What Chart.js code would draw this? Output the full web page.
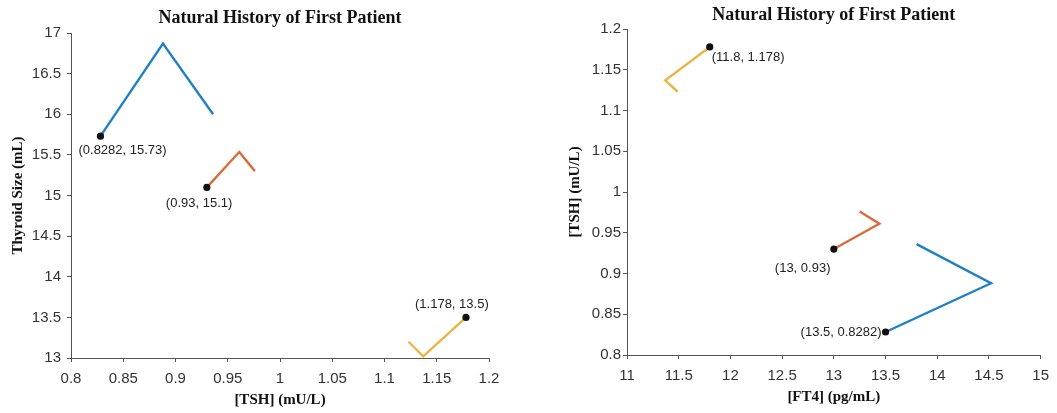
<!DOCTYPE html>
<html>
<head>
<meta charset="utf-8">
<script src="https://cdn.jsdelivr.net/npm/chart.js@4.4.1/dist/chart.umd.min.js"></script>
<style>
  html, body { margin: 0; padding: 0; background: #fff; }
  .wrap { position: absolute; top: 0; height: 413px; }
  #left { left: 0; width: 528px; }
  #right { left: 528px; width: 529px; }
</style>
</head>
<body>
<div class="wrap" id="left"><canvas id="size-chart"></canvas></div>
<div class="wrap" id="right"><canvas id="ft4-chart"></canvas></div>
<script>
// Three phases of the first patient, each a short path (start point first)
const tshBlue = [0.8282, 0.888, 0.936];
const sizeBlue = [15.73, 16.87, 16.0];
const ft4Blue = [13.5, 14.52, 13.8];

const tshOrange = [0.93, 0.961, 0.976];
const sizeOrange = [15.1, 15.535, 15.3];
const ft4Orange = [13.0, 13.44, 13.25];

const tshYellow = [1.178, 1.137, 1.123];
const sizeYellow = [13.5, 13.02, 13.2];
const ft4Yellow = [11.8, 11.37, 11.49];

const tshTicks = [0.8, 0.85, 0.9, 0.95, 1, 1.05, 1.1, 1.15, 1.2];
const sizeTicks = [13, 13.5, 14, 14.5, 15, 15.5, 16, 16.5, 17];
const ft4Ticks = [11, 11.5, 12, 12.5, 13, 13.5, 14, 14.5, 15];

const chartTitle = 'Natural History of First Patient';

const BLUE = '#1f80c8';
const ORANGE = '#dd6a38';
const YELLOW = '#ecb447';
const AXIS = '#555';
const TEXT = '#333';

const zip = (xs, ys) => xs.map((x, i) => ({ x, y: ys[i] }));

function series(xs, ys, color, label) {
  return {
    data: zip(xs, ys),
    showLine: true,
    borderColor: color,
    borderWidth: 2.4,
    tension: 0,
    pointRadius: xs.map((_, i) => i === 0 ? 3.6 : 0),
    pointBackgroundColor: '#111',
    pointBorderWidth: 0,
    startLabel: label
  };
}

// Writes "(x, y)" next to the first point of every path
const startLabels = {
  id: 'startLabels',
  afterDatasetsDraw(chart) {
    const ctx = chart.ctx;
    ctx.save();
    ctx.font = '13px "Liberation Sans", Arial, sans-serif';
    ctx.fillStyle = '#222';
    ctx.textBaseline = 'middle';
    chart.data.datasets.forEach((ds, i) => {
      const pt = chart.getDatasetMeta(i).data[0];
      const raw = ds.data[0];
      const lab = ds.startLabel;
      ctx.textAlign = lab.align || 'left';
      ctx.fillText('(' + raw.x + ', ' + raw.y + ')', pt.x + lab.dx, pt.y + lab.dy);
    });
    ctx.restore();
  }
};

function axis(ticks, title, opts) {
  return {
    type: 'linear',
    min: ticks[0],
    max: ticks[ticks.length - 1],
    afterBuildTicks: s => { s.ticks = ticks.map(v => ({ value: v })); },
    afterFit: s => {
      if (s.isHorizontal()) s.height = opts.size; else s.width = opts.size;
    },
    border: { display: true, color: AXIS, width: 1 },
    grid: { drawOnChartArea: false, drawTicks: true, tickLength: 4, color: AXIS },
    ticks: {
      color: TEXT,
      padding: opts.tickPad,
      font: { family: '"Liberation Sans", Arial, sans-serif', size: 15 },
      callback: v => String(+v.toFixed(4))
    },
    title: {
      display: true,
      text: title,
      color: '#111',
      font: { family: '"Liberation Serif", "Times New Roman", serif', size: 15, weight: 'bold', lineHeight: 1.2 },
      padding: opts.titlePad
    }
  };
}

function baseOptions(layoutPad, titlePad, xAxis, yAxis) {
  return {
    responsive: true,
    maintainAspectRatio: false,
    animation: false,
    layout: { padding: layoutPad },
    scales: { x: xAxis, y: yAxis },
    plugins: {
      legend: { display: false },
      tooltip: { enabled: false },
      title: {
        display: true,
        text: chartTitle,
        fullSize: false,
        color: '#111',
        font: { family: '"Liberation Serif", "Times New Roman", serif', size: 18, weight: 'bold', lineHeight: 1.2 },
        padding: titlePad
      }
    }
  };
}

// Left: thyroid size against TSH
new Chart(document.getElementById('size-chart'), {
  type: 'scatter',
  data: {
    datasets: [
      series(tshBlue, sizeBlue, BLUE, { dx: -22, dy: 14 }),
      series(tshOrange, sizeOrange, ORANGE, { dx: -41, dy: 16 }),
      series(tshYellow, sizeYellow, YELLOW, { dx: -51, dy: -13 })
    ]
  },
  options: baseOptions(
    { top: 0, right: 39, bottom: 0, left: 0 },
    { top: 8, bottom: 3.4 },
    axis(tshTicks, '[TSH] (mU/L)', { size: 55, tickPad: 8, titlePad: { top: 0, bottom: 4 } }),
    axis(sizeTicks, 'Thyroid Size (mL)', { size: 71, tickPad: 6, titlePad: { top: 9, bottom: 0 } })
  ),
  plugins: [startLabels]
});

// Right: TSH against FT4
new Chart(document.getElementById('ft4-chart'), {
  type: 'scatter',
  data: {
    datasets: [
      series(ft4Blue, tshBlue, BLUE, { dx: -4, dy: 0, align: 'right' }),
      series(ft4Orange, tshOrange, ORANGE, { dx: -59, dy: 19 }),
      series(ft4Yellow, tshYellow, YELLOW, { dx: 2, dy: 10 })
    ]
  },
  options: baseOptions(
    { top: 0, right: 15, bottom: 0, left: 0 },
    { top: 5, bottom: 2.4 },
    axis(ft4Ticks, '[FT4] (pg/mL)', { size: 58, tickPad: 8, titlePad: { top: 0, bottom: 7 } }),
    axis(tshTicks, '[TSH] (mU/L)', { size: 99, tickPad: 2, titlePad: { top: 38, bottom: 0 } })
  ),
  plugins: [startLabels]
});
</script>
</body>
</html>
